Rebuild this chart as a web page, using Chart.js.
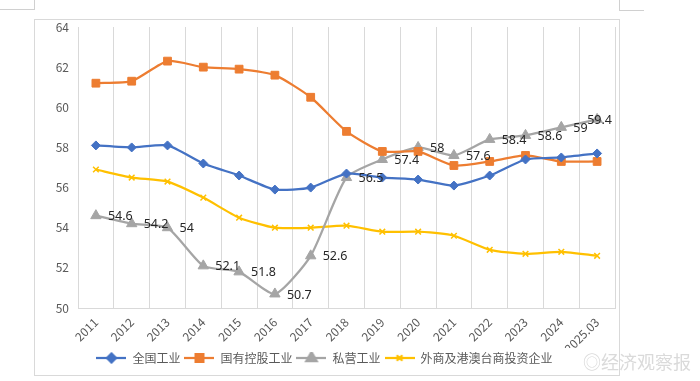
<!DOCTYPE html>
<html>
<head>
<meta charset="utf-8">
<script src="https://cdn.jsdelivr.net/npm/chart.js@4.4.1/dist/chart.umd.min.js"></script>
<style>
  body { margin: 0; background: #fff; }
  #wrap { position: relative; width: 700px; height: 381px; overflow: hidden; }
  #box { position: absolute; left: 34px; top: 19px; width: 584px; height: 355px; border: 1px solid #d9d9d9; }
  canvas { position: absolute; left: 0; top: 0; }
  .mark { position: absolute; background: #d0d0d0; }
  #wm { position: absolute; left: 583px; top: 348px; font: 18px 'Noto Sans CJK SC', sans-serif; color: #dadada; }
</style>
</head>
<body>
<div id="wrap">
  <div id="box"></div>
  <div class="mark" style="left:0;top:9px;width:34px;height:1px"></div>
  <div class="mark" style="left:34px;top:0;width:1px;height:10px"></div>
  <div class="mark" style="left:619px;top:10px;width:25px;height:1px"></div>
  <div class="mark" style="left:619px;top:0;width:1px;height:10px"></div>
  <canvas id="myChart" width="700" height="381"></canvas>
  <div id="wm">&#9678;经济观察报</div>
</div>
<script>
const years = ['2011','2012','2013','2014','2015','2016','2017','2018','2019','2020','2021','2022','2023','2024','2025.03'];
const national = [58.1, 58.0, 58.1, 57.2, 56.6, 55.9, 56.0, 56.7, 56.5, 56.4, 56.1, 56.6, 57.4, 57.5, 57.7];
const stateOwned = [61.2, 61.3, 62.3, 62.0, 61.9, 61.6, 60.5, 58.8, 57.8, 57.8, 57.1, 57.3, 57.6, 57.3, 57.3];
const privateInd = [54.6, 54.2, 54.0, 52.1, 51.8, 50.7, 52.6, 56.5, 57.4, 58.0, 57.6, 58.4, 58.6, 59.0, 59.4];
const foreign = [56.9, 56.5, 56.3, 55.5, 54.5, 54.0, 54.0, 54.1, 53.8, 53.8, 53.6, 52.9, 52.7, 52.8, 52.6];
const names = ['全国工业', '国有控股工业', '私营工业', '外商及港澳台商投资企业'];
const colors = ['#4472C4', '#ED7D31', '#A5A5A5', '#FFC000'];
const shapes = ['rectRot', 'rect', 'triangle', 'crossRot'];
const sizes = [4.5, 5.5, 6, 4];

Chart.defaults.font.family = "'Noto Sans CJK SC', 'Noto Sans', sans-serif";
Chart.defaults.color = '#595959';

// small legend symbol: line with marker in the middle
function legendIcon(i) {
    var c = document.createElement('canvas');
    c.width = 30; c.height = 12;
    var ctx = c.getContext('2d');
    ctx.strokeStyle = colors[i];
    ctx.fillStyle = colors[i];
    ctx.lineWidth = 2.25;
    ctx.beginPath(); ctx.moveTo(0, 6); ctx.lineTo(30, 6); ctx.stroke();
    Chart.helpers.drawPoint(ctx, {pointStyle: shapes[i], radius: sizes[i], borderWidth: 1.5}, 15, 6);
    if (shapes[i] !== 'crossRot') ctx.fill();
    return c;
}

// value labels for the private series (kept inside the plot like excel does)
const valueLabels = {
    id: 'valueLabels',
    afterDatasetsDraw(chart) {
        const ctx = chart.ctx;
        const meta = chart.getDatasetMeta(2);
        ctx.save();
        ctx.font = "12.5px 'Noto Sans', sans-serif";
        ctx.fillStyle = '#262626';
        ctx.textAlign = 'left';
        ctx.textBaseline = 'middle';
        meta.data.forEach(function (p, i) {
            var txt = String(privateInd[i]);
            var w = ctx.measureText(txt).width;
            var x = Math.min(p.x + 12, chart.chartArea.right - w - 3);
            ctx.fillText(txt, x, p.y + 1);
        });
        ctx.restore();
    }
};

const series = [national, stateOwned, privateInd, foreign];
const datasets = series.map(function (d, i) {
    return {
        label: names[i],
        data: d,
        borderColor: colors[i],
        backgroundColor: colors[i],
        borderWidth: 2.25,
        pointStyle: shapes[i],
        pointRadius: sizes[i],
        pointBorderWidth: shapes[i] === 'crossRot' ? 1.5 : 1,
        tension: 0.2
    };
});

const icons = [0, 1, 2, 3].map(legendIcon);

new Chart('myChart', {
    type: 'line',
    data: { labels: years, datasets: datasets },
    plugins: [valueLabels],
    options: {
        responsive: false,
        animation: false,
        layout: { padding: { left: 34, right: 85, top: 27, bottom: 7 } },
        scales: {
            x: {
                offset: true,
                grid: { offset: true, color: '#d9d9d9', drawTicks: false },
                border: { color: '#d9d9d9' },
                ticks: { minRotation: 45, maxRotation: 45, padding: 7, font: { size: 12 } },
                afterFit: function (s) { s.height = 40; }
            },
            y: {
                min: 50, max: 64,
                ticks: { stepSize: 2, padding: 1, font: { size: 12 } },
                grid: { display: false },
                border: { display: false },
                afterFit: function (s) { s.width = 44; }
            }
        },
        plugins: {
            tooltip: { enabled: false },
            legend: {
                position: 'bottom',
                labels: {
                    usePointStyle: true,
                    pointStyleWidth: 30,
                    padding: 4,
                    color: '#595959',
                    font: { size: 12 },
                    generateLabels: function (chart) {
                        return names.map(function (n, i) {
                            return { text: n, pointStyle: icons[i], fillStyle: colors[i], strokeStyle: colors[i], lineWidth: 0, datasetIndex: i, fontColor: '#595959' };
                        });
                    }
                }
            }
        }
    }
});
</script>
</body>
</html>
